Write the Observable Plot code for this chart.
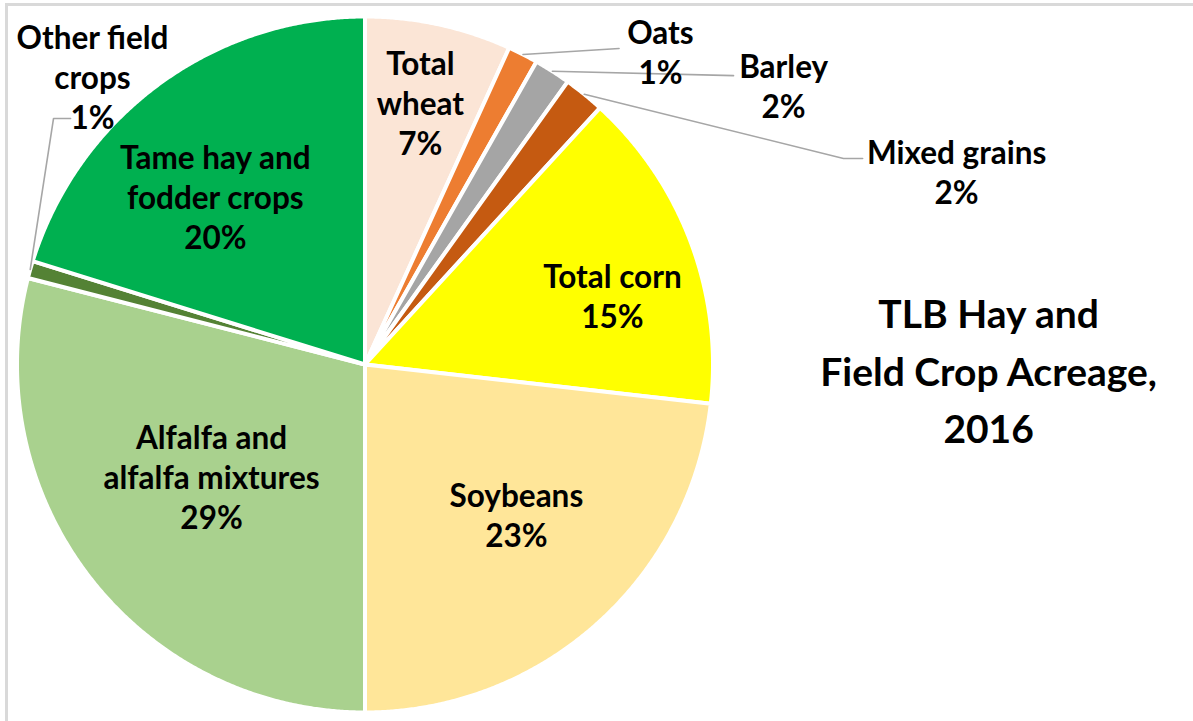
<!DOCTYPE html>
<html><head><meta charset="utf-8">
<script src="https://cdn.jsdelivr.net/npm/d3@7"></script>
<script src="https://cdn.jsdelivr.net/npm/@observablehq/plot@0.6"></script>
<style>
html,body{margin:0;padding:0;background:#fff;}
#wrap{position:relative;width:1193px;height:721px;overflow:hidden;}
#frame{position:absolute;left:5px;top:3px;width:1300px;height:800px;border-top:3px solid #d9d9d9;border-left:3px solid #d9d9d9;pointer-events:none;}
#wrap svg{position:absolute;left:0;top:0;}
</style></head><body><div id="wrap"><div id="frame"></div></div>
<script>
// ---- data ----
const categories = ["Total wheat","Oats","Barley","Mixed grains","Total corn","Soybeans","Alfalfa and alfalfa mixtures","Other field crops","Tame hay and fodder crops"];
const shares = [6.8, 1.4, 1.7, 1.9, 15.0, 23.2, 29.0, 0.8, 20.2];
const labelTexts = ["Total\nwheat","Oats","Barley","Mixed grains","Total corn","Soybeans","Alfalfa and\nalfalfa mixtures","Other field\ncrops","Tame hay and\nfodder crops"];
const colors = ["#fbe5d6","#ed7d31","#a5a5a5","#c55a11","#ffff00","#ffe699","#a9d18e","#548235","#00b050"];
const titleText = "TLB Hay and\nField Crop Acreage,\n2016";

// ---- layout (in pie-radius units, relative to the pie centre) ----
const W = 1193, H = 721, CX = 364.5, CY = 364, R = 348;
const labelPos = {
  "Total wheat": [0.159, 0.755],
  "Oats": [0.849, 0.900],
  "Barley": [1.203, 0.802],
  "Mixed grains": [1.700, 0.555],
  "Total corn": [0.711, 0.198],
  "Soybeans": [0.435, -0.430],
  "Alfalfa and alfalfa mixtures": [-0.441, -0.322],
  "Other field crops": [-0.783, 0.828],
  "Tame hay and fodder crops": [-0.430, 0.485]
};
const leaderBends = {
  "Oats": [[0.730, 0.908]],
  "Barley": [[1.059, 0.830]],
  "Mixed grains": [[1.375, 0.592], [1.430, 0.592]],
  "Other field crops": [[-0.895, 0.707], [-0.846, 0.707]]
};
const titlePos = [1.792, -0.008];

// ---- geometry from data ----
const arcs = d3.pie().sort(null).value(d => d)(shares);
const slicePts = [];
arcs.forEach((a, i) => {
  const name = categories[i];
  slicePts.push({name, x: 0, y: 0});
  const n = Math.max(2, Math.ceil((a.endAngle - a.startAngle) / 0.005));
  for (let k = 0; k <= n; k++) {
    const t = a.startAngle + (a.endAngle - a.startAngle) * k / n;
    slicePts.push({name, x: Math.sin(t), y: Math.cos(t)});
  }
  slicePts.push({name, x: 0, y: 0});
});

const leaderPts = [];
arcs.forEach((a, i) => {
  const name = categories[i];
  if (!leaderBends[name]) return;
  const m = (a.startAngle + a.endAngle) / 2;
  leaderPts.push({name, x: Math.sin(m), y: Math.cos(m)});
  leaderBends[name].forEach(([x, y]) => leaderPts.push({name, x, y}));
});

const labels = categories.map((name, i) => ({
  name,
  x: labelPos[name][0],
  y: labelPos[name][1],
  text: labelTexts[i] + "\n" + Math.round(shares[i]) + "%"
}));

const chart = Plot.plot({
  width: W, height: H,
  marginTop: 0, marginRight: 0, marginBottom: 0, marginLeft: 0,
  x: {domain: [-CX / R, (W - CX) / R], axis: null},
  y: {domain: [-(H - CY) / R, CY / R], axis: null},
  color: {domain: categories, range: colors},
  style: {background: "transparent"},
  marks: [
    Plot.line(slicePts, {x: "x", y: "y", z: "name", fill: "name", stroke: "white", strokeWidth: 4, strokeLinejoin: "round"}),
    Plot.line(leaderPts, {x: "x", y: "y", z: "name", stroke: "#a6a6a6", strokeWidth: 1.6, strokeLinejoin: "miter"}),
    Plot.text(labels, {x: "x", y: "y", text: "text", fontSize: 31.5, fontWeight: "bold", fontFamily: "Lato", fill: "#000", lineHeight: 1.27}),
    Plot.text([titleText], {x: () => titlePos[0], y: () => titlePos[1], text: d => d, fontSize: 39, fontWeight: "bold", fontFamily: "Lato", fill: "#000", lineHeight: 1.47})
  ]
});
document.getElementById("wrap").insertBefore(chart, document.getElementById("frame"));
</script>
</body></html>
